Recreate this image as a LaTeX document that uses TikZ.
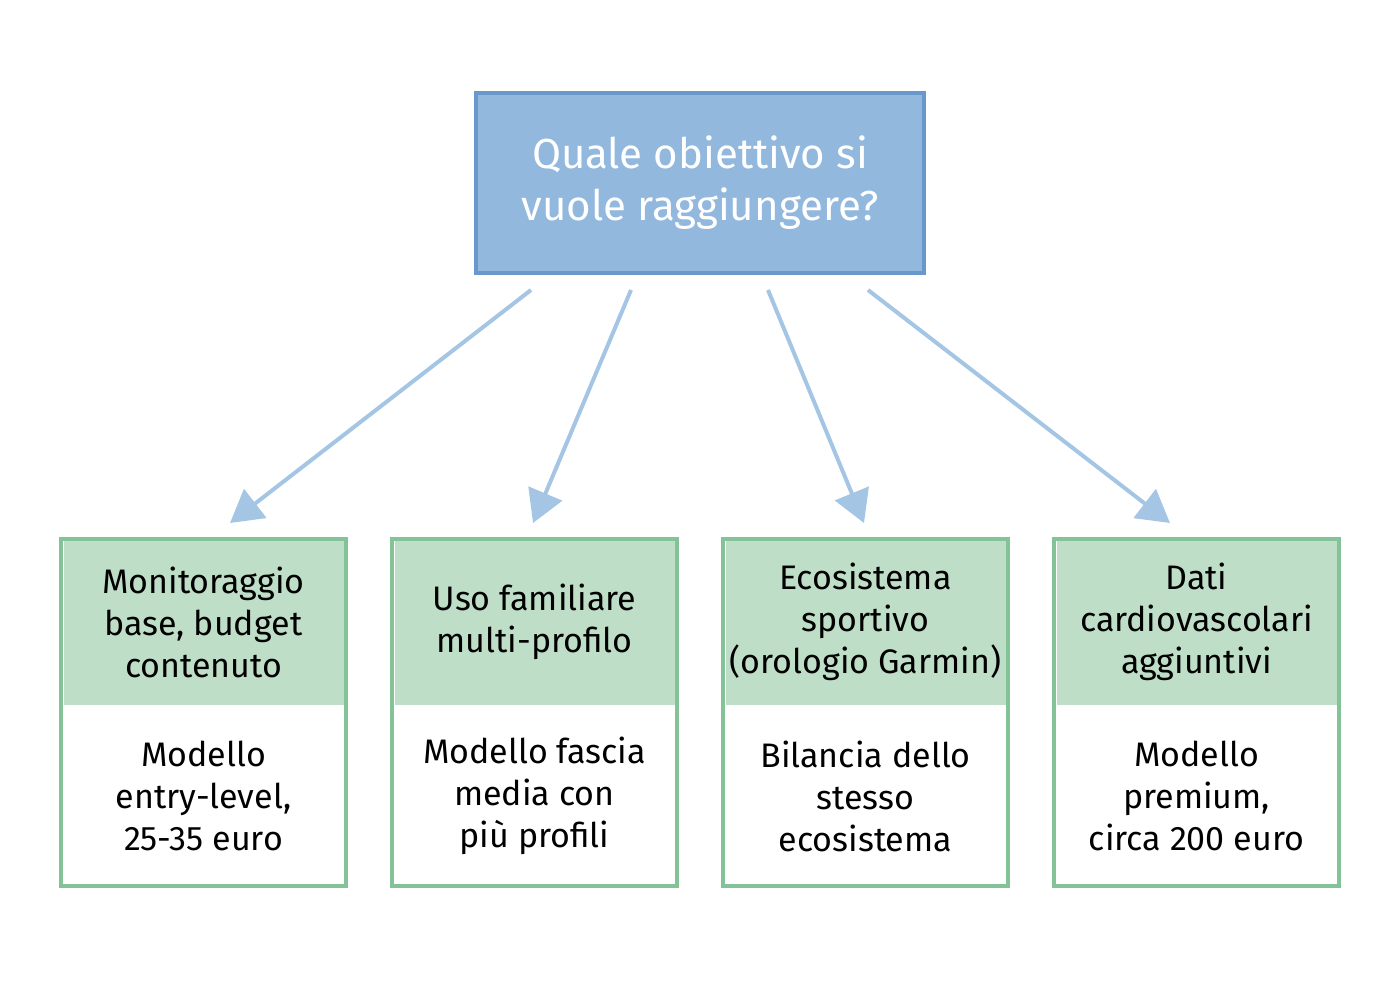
\documentclass[tikz,border=0pt]{standalone}
\usepackage{fontspec}
\setmainfont{Fira Sans}
\usetikzlibrary{arrows.meta}
\definecolor{topfill}{RGB}{146,184,222}
\definecolor{topline}{RGB}{104,152,204}
\definecolor{grfill}{RGB}{190,222,200}
\definecolor{grline}{RGB}{132,194,152}
\definecolor{arr}{RGB}{164,198,228}
\tikzset{every picture/.style={line width=0.75pt},
  head/.style={draw=none,fill=grfill,minimum width=280pt,minimum height=166pt,align=center,font=\fontsize{34}{42}\selectfont,inner sep=0pt},
  body/.style={draw=none,fill=white,minimum width=280pt,minimum height=178pt,align=center,font=\fontsize{34}{42}\selectfont,inner sep=0pt},
  frame/.style={draw=grline,line width=4pt},
  link/.style={draw=arr,line width=4pt,-{Triangle[length=32pt,width=36pt]}}}
\begin{document}
\begin{tikzpicture}[x=1pt,y=1pt,yscale=-1]
\useasboundingbox (0,0) rectangle (1400,1000);

%Shape: top question
\draw [draw=topline,fill=topfill,line width=4pt] (476,93) rectangle (924,273);
\node (goal) [align=center,text=white,font=\fontsize{42}{52}\selectfont] at (700,183) {Quale obiettivo si\\vuole raggiungere?};

%Boxes: header and body
\node (h1) [head] at (203.5,622) {Monitoraggio\\base, budget\\contenuto};
\node (b1) [body] at (203.5,796) {Modello\\entry-level,\\25-35 euro};
\draw [frame] (61,539) rectangle (346,886);
\node (h2) [head] at (534.5,622) {Uso familiare\\multi-profilo};
\node (b2) [body] at (534.5,796) {Modello fascia\\media con\\più profili};
\draw [frame] (392,539) rectangle (677,886);
\node (h3) [head] at (865.5,622) {Ecosistema\\sportivo\\(orologio Garmin)};
\node (b3) [body] at (865.5,796) {Bilancia dello\\stesso\\ecosistema};
\draw [frame] (723,539) rectangle (1008,886);
\node (h4) [head] at (1196.5,622) {Dati\\cardiovascolari\\aggiuntivi};
\node (b4) [body] at (1196.5,796) {Modello\\premium,\\circa 200 euro};
\draw [frame] (1054,539) rectangle (1339,886);

%Arrows
\coordinate (s1) at (531,290); \coordinate (e1) at (230,523);
\coordinate (s2) at (631,290); \coordinate (e2) at (533,523);
\coordinate (s3) at (768,290); \coordinate (e3) at (864,523);
\coordinate (s4) at (868,290); \coordinate (e4) at (1170,523);
\foreach \i in {1,...,4} {\draw [link] (s\i) -- (e\i);}
\end{tikzpicture}
\end{document}
